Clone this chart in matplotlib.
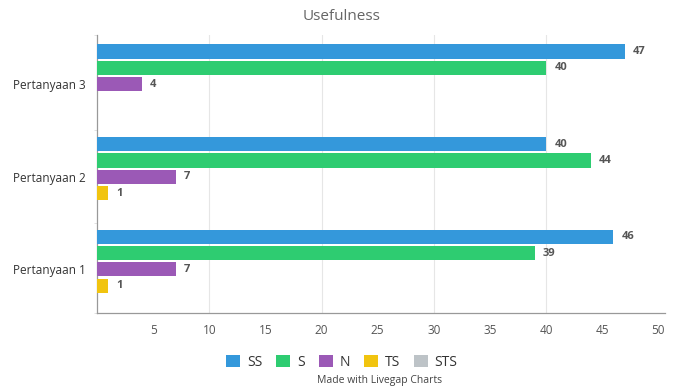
import numpy as np
import matplotlib.pyplot as plt
from matplotlib.patches import Patch

plt.rcParams['font.family'] = ['Open Sans', 'DejaVu Sans']

categories = ["Pertanyaan 1", "Pertanyaan 2", "Pertanyaan 3"]
series_names = ["SS", "S", "N", "TS", "STS"]
SS = [46, 40, 47]
S = [39, 44, 40]
N = [7, 7, 4]
TS = [1, 1, 0]
STS = [0, 0, 0]
values = [SS, S, N, TS, STS]
colors = ["#3498db", "#2ecc71", "#9b59b6", "#f1c40f", "#bdc3c7"]
x_ticks = [5, 10, 15, 20, 25, 30, 35, 40, 45, 50]

fig = plt.figure(figsize=(6.8, 3.91), dpi=100)
ax = fig.add_axes([97 / 680, 1 - 313 / 391, 568 / 680, 278 / 391])

y = np.arange(len(categories))
step = 0.176
bar_h = 0.152

for i, (name, vals, col) in enumerate(zip(series_names, values, colors)):
    pos = y + (2 - i) * step
    ax.barh(pos, vals, height=bar_h, color=col, zorder=3)
    for p, v in zip(pos, vals):
        if v > 0:
            ax.annotate(str(v), (v, p), xytext=(6, 0), textcoords="offset points",
                        va="center", ha="left", fontsize=8, fontweight="bold",
                        color="#555555")

ax.set_xlim(0, 50.6)
ax.set_ylim(-0.47, 2.53)
ax.set_xticks(x_ticks)
ax.set_xticklabels([str(t) for t in x_ticks], fontsize=8.5, color="#555555")
ax.tick_params(axis="x", length=0, pad=8)
ax.set_yticks(y)
ax.set_yticklabels(categories, fontsize=8.5, color="#333333")
ax.tick_params(axis="y", length=0, pad=8)
ax.set_yticks([-0.47, 0.5, 1.5, 2.53], minor=True)
ax.tick_params(axis="y", which="minor", length=2, color="#dddddd")

for g in [10, 20, 30, 40]:
    ax.axvline(g, color="#e6e6e6", linewidth=0.8, zorder=1)

for side in ["top", "right"]:
    ax.spines[side].set_visible(False)
ax.spines["left"].set_color("#999999")
ax.spines["bottom"].set_color("#999999")
ax.spines["left"].set_linewidth(0.9)
ax.spines["bottom"].set_linewidth(0.9)

fig.text(342 / 680, 1 - 16 / 391, "Usefulness", ha="center", va="center",
         fontsize=11, color="#666666")

handles = [Patch(facecolor=c, label=n) for n, c in zip(series_names, colors)]
fig.legend(handles=handles, loc="center", bbox_to_anchor=(342 / 680, 1 - 362 / 391),
           ncol=5, frameon=False, fontsize=10, handlelength=1.0, handleheight=1.0,
           handletextpad=0.5, columnspacing=1.0, labelcolor="#333333")

fig.text(380 / 680, 1 - 381 / 391, "Made with Livegap Charts", ha="center",
         va="center", fontsize=7.5, color="#444444")

plt.savefig("out.png", dpi=100)
